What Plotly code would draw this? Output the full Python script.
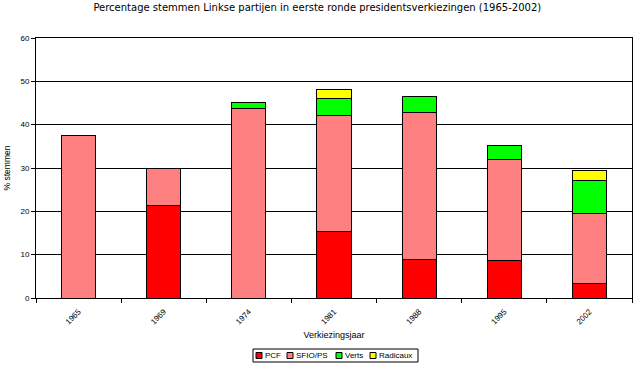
import plotly.graph_objects as go

years = ["1965", "1969", "1974", "1981", "1988", "1995", "2002"]
pcf = [0, 21.4, 0, 15.4, 8.9, 8.6, 3.4]
sfio_ps = [37.6, 8.5, 43.8, 26.8, 34.0, 23.3, 16.1]
verts = [0, 0, 1.4, 3.9, 3.7, 3.2, 7.6]
radicaux = [0, 0, 0, 2.1, 0, 0, 2.3]

series = [("PCF", pcf, "#FF0000"), ("SFIO/PS", sfio_ps, "#FF8080"),
          ("Verts", verts, "#00FF00"), ("Radicaux", radicaux, "#FFFF00")]

W, H = 641, 368
L, R, T, B = 36, 9, 38, 70
font = "Liberation Sans, Arial, sans-serif"
fig = go.Figure()
for name, vals, col in series:
    fig.add_trace(go.Bar(x=years, y=[v if v else None for v in vals], name=name,
                         showlegend=False,
                         marker=dict(color=col, line=dict(color="black", width=1))))

# manual compact legend (paper coordinates derived from pixels)
pw, ph = W - L - R, H - T - B
def px(x): return (x - L) / pw
def py(y): return (H - B - y) / ph

shapes = [dict(type="rect", xref="paper", yref="paper", x0=px(253), x1=px(418),
               y0=py(362), y1=py(349), line=dict(color="black", width=1), fillcolor="white", layer="above")]
annotations = []
legend_x = [256, 287, 336, 370]
for (name, vals, col), lx in zip(series, legend_x):
    shapes.append(dict(type="rect", xref="paper", yref="paper", x0=px(lx), x1=px(lx + 6),
                       y0=py(358.5), y1=py(352.5), line=dict(color="black", width=1),
                       fillcolor=col, layer="above"))
    annotations.append(dict(text=name, xref="paper", yref="paper", x=px(lx + 6.5), y=py(355.5),
                            xanchor="left", yanchor="middle", showarrow=False,
                            font=dict(size=8, family=font)))

fig.update_layout(
    barmode="stack", bargap=0.6,
    width=W, height=H,
    margin=dict(l=L, r=R, t=T, b=B, autoexpand=False),
    paper_bgcolor="white", plot_bgcolor="white",
    font=dict(family=font, size=8, color="black"),
    showlegend=False,
    title=dict(text="Percentage stemmen Linkse partijen in eerste ronde presidentsverkiezingen (1965-2002)",
               x=0.495, xanchor="center", y=1 - 7.5 / H, yanchor="middle",
               font=dict(size=10, family="DejaVu Sans")),
    shapes=shapes, annotations=annotations,
    xaxis=dict(type="category", tickangle=-45, showline=True, linecolor="black", linewidth=1,
               mirror=True, ticks="outside", tickson="boundaries", ticklen=4, tickcolor="black",
               showgrid=False, automargin=False, tickfont=dict(size=8), ticklabelstandoff=5,
               title=dict(text="Verkiezingsjaar", font=dict(size=9), standoff=6)),
    yaxis=dict(range=[0, 60], dtick=10, showline=True, linecolor="black", linewidth=1, mirror=True,
               ticks="outside", ticklen=4, tickcolor="black", showgrid=True, gridcolor="black",
               gridwidth=1, zeroline=False, automargin=False, tickfont=dict(size=8),
               title=dict(text="% stemmen", font=dict(size=8.5), standoff=8)),
)
fig.write_html("out.html", config={"displayModeBar": False})
with open("out.html", encoding="utf-8") as f:
    html = f.read()
html = html.replace("<head>", "<head><style>html,body{margin:0;padding:0;}</style>", 1)
with open("out.html", "w", encoding="utf-8") as f:
    f.write(html)
